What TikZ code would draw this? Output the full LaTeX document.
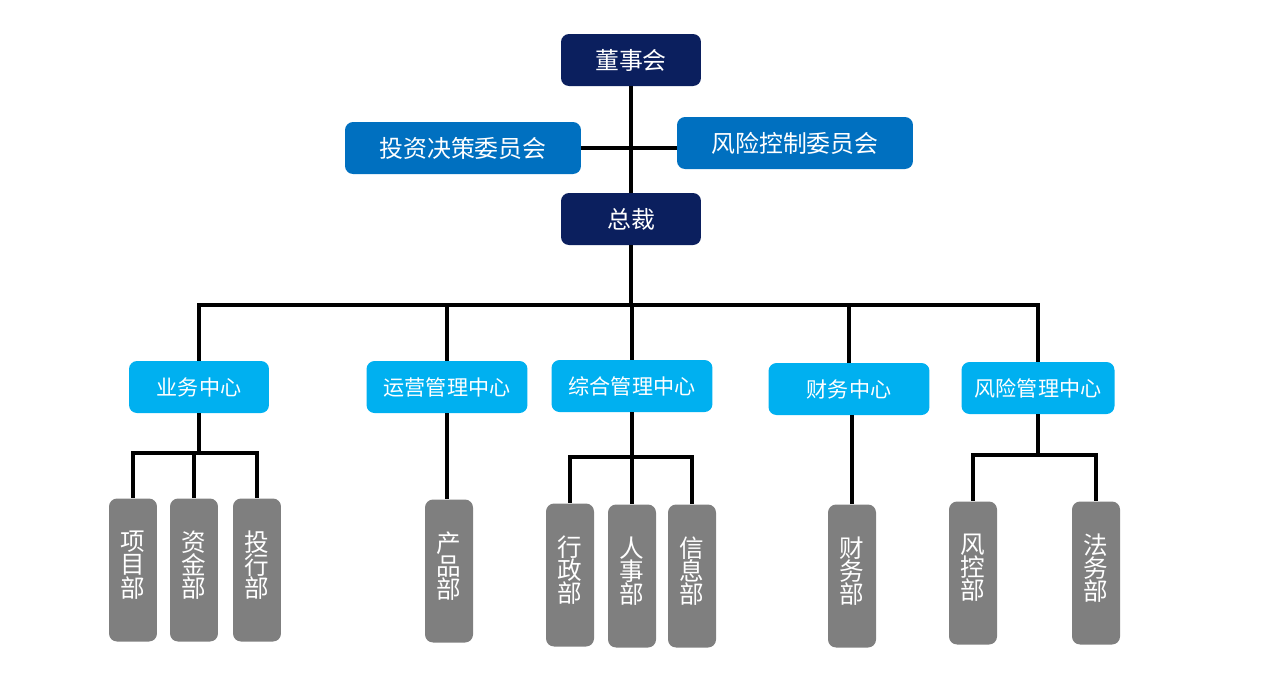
\documentclass[tikz,border=0pt]{standalone}
\usepackage{fontspec}
\setmainfont{Noto Sans CJK SC}
\definecolor{navy}{HTML}{0B1F5E}
\definecolor{komitee}{HTML}{0070C0}
\definecolor{zentrum}{HTML}{00B0F0}
\definecolor{abteil}{HTML}{7F7F7F}
\begin{document}
\begin{tikzpicture}[x=0.02cm, y=-0.02cm,
	box/.style={rounded corners=0.16cm, text=white, inner sep=0pt, align=center},
	topbox/.style={box, fill=navy, minimum width=2.8cm, minimum height=1.04cm, font=\fontsize{13.6}{16}\selectfont},
	kombox/.style={box, fill=komitee, minimum width=4.72cm, minimum height=1.04cm, font=\fontsize{13.6}{16}\selectfont},
	zenbox/.style={box, fill=zentrum, minimum height=1.04cm, font=\fontsize{12}{14}\selectfont},
	abtbox/.style={box, fill=abteil, minimum width=0.96cm, minimum height=2.86cm, font=\fontsize{14}{13.2}\selectfont},
	linie/.style={line width=0.085cm, black}]
	\useasboundingbox (0,0) rectangle (1264,691);
	% Leitung oben
	\node[topbox] (dsh) at (631, 60) {董事会};
	\node[kombox] (tzjc) at (463, 148) {投资决策委员会};
	\node[kombox] (fxkz) at (795, 143) {风险控制委员会};
	\node[topbox] (zc) at (631, 219) {总裁};
	% Zentren
	\node[zenbox, minimum width=2.8cm] (ywzx) at (199, 387) {业务中心};
	\node[zenbox, minimum width=3.22cm] (yyzx) at (447, 387) {运营管理中心};
	\node[zenbox, minimum width=3.22cm] (zhzx) at (632, 386) {综合管理中心};
	\node[zenbox, minimum width=3.22cm] (cwzx) at (849, 389) {财务中心};
	\node[zenbox, minimum width=3.06cm] (fxzx) at (1038, 388) {风险管理中心};
	% Abteilungen
	\foreach \name/\x/\y/\txt in {xmb/133/570/项\\目\\部, zjb/194/570/资\\金\\部,
		thb/257/570/投\\行\\部, cpb/449/571/产\\品\\部, xzb/570/575/行\\政\\部,
		rsb/632/576/人\\事\\部, xxb/692/576/信\\息\\部, cwb/852/576/财\\务\\部,
		fkb/973/573/风\\控\\部, fwb/1096/573/法\\务\\部}
		\node[abtbox] (\name) at (\x, \y) {\txt\\[-6.4pt]};
	% Hilfspunkte
	\coordinate (bus) at (633, 305);
	\coordinate (ast1) at (0, 453);
	\coordinate (ast2) at (0, 457);
	\coordinate (ast3) at (0, 455);
	% Verbindungen oben
	\draw[linie] (dsh.south) -- (zc.north);
	\draw[linie] (tzjc.east) -- (tzjc.east -| fxkz.west);
	\draw[linie] (zc.south) -- (zc.south |- bus);
	\draw[linie, line cap=rect] (ywzx.north |- bus) -- (fxzx.north |- bus);
	\foreach \n in {ywzx, yyzx, zhzx, cwzx, fxzx}
		\draw[linie] (\n.north |- bus) -- (\n.north);
	% Verbindungen unten
	\draw[linie] (ywzx.south) -- (ywzx.south |- ast1);
	\draw[linie, line cap=rect] (xmb.north |- ast1) -- (thb.north |- ast1);
	\foreach \n in {xmb, zjb, thb}
		\draw[linie] (\n.north |- ast1) -- (\n.north);
	\draw[linie] (yyzx.south) -- (yyzx.south |- cpb.north);
	\draw[linie] (zhzx.south) -- (zhzx.south |- ast2);
	\draw[linie, line cap=rect] (xzb.north |- ast2) -- (xxb.north |- ast2);
	\foreach \n in {xzb, rsb, xxb}
		\draw[linie] (\n.north |- ast2) -- (\n.north);
	\draw[linie] (cwb.north |- cwzx.south) -- (cwb.north);
	\draw[linie] (fxzx.south) -- (fxzx.south |- ast3);
	\draw[linie, line cap=rect] (fkb.north |- ast3) -- (fwb.north |- ast3);
	\foreach \n in {fkb, fwb}
		\draw[linie] (\n.north |- ast3) -- (\n.north);
\end{tikzpicture}
\end{document}
